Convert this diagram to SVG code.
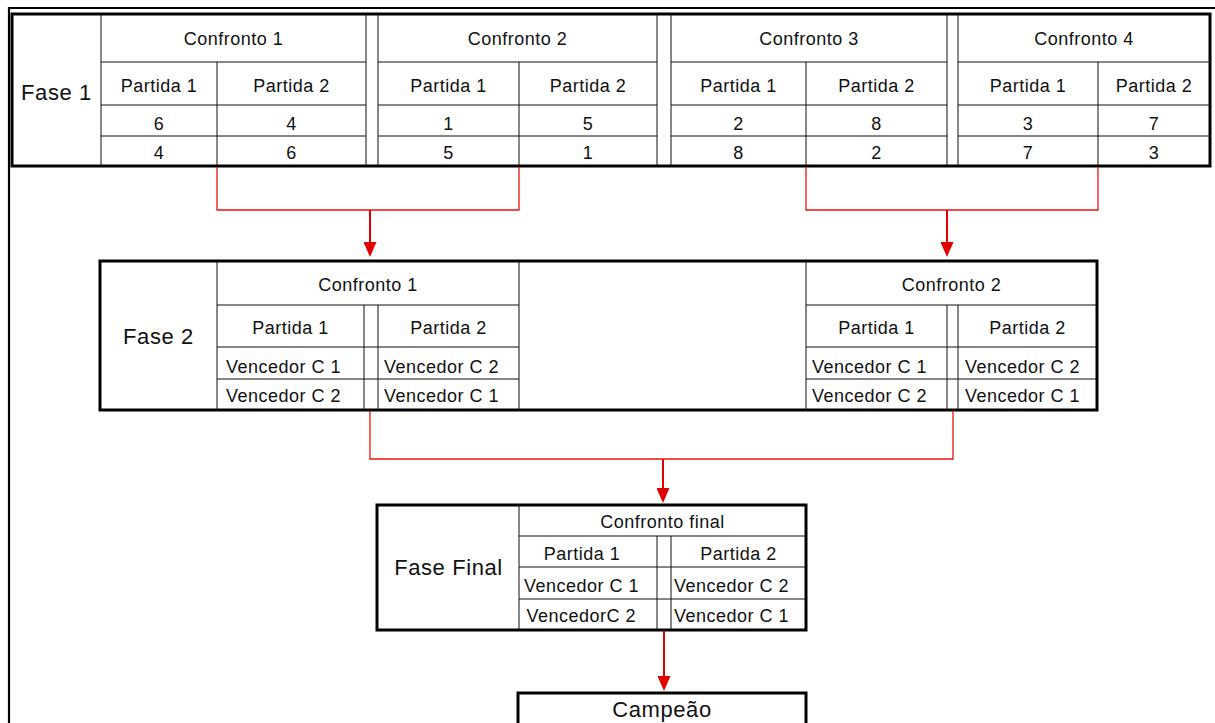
<svg xmlns="http://www.w3.org/2000/svg" width="1215" height="723" viewBox="0 0 1215 723">
  <style>
    .outer { fill: #fff; stroke: #000; stroke-width: 3; }
    .grid { fill: none; stroke: #111; stroke-width: 1; }
    .frame { fill: none; stroke: #000; stroke-width: 2.2; }
    .t { font-family: "Liberation Sans", Arial, sans-serif; font-size: 18px; letter-spacing: 0.5px; fill: #111; text-anchor: middle; }
    .s { text-anchor: start; }
    .big { font-family: "Liberation Sans", Arial, sans-serif; font-size: 22px; letter-spacing: 0.6px; fill: #111; text-anchor: middle; }
    .link { fill: none; stroke: #f01010; stroke-width: 1.3; }
    .stem { fill: none; stroke: #e00000; stroke-width: 2; marker-end: url(#arrow); }
  </style>
  <defs>
    <marker id="arrow" markerUnits="userSpaceOnUse" markerWidth="15" markerHeight="13" refX="1" refY="6.5" orient="auto">
      <path d="M0,0 L15,6.5 L0,13 Z" fill="#e00000"/>
    </marker>
  </defs>

  <rect width="1215" height="723" fill="#fff"/>

  <!-- page frame -->
  <path class="frame" d="M9,723 V8 H1215"/>

  <!-- Phase 1 -->
  <g id="fase1">
    <rect class="outer" x="12" y="14" width="1198" height="152"/>
    <path class="grid" d="M101,14 V166 M366,14 V166 M378,14 V166 M657,14 V166 M671,14 V166 M947,14 V166 M958,14 V166
      M217,62 V166 M519,62 V166 M806,62 V166 M1098,62 V166
      M101,62 H366 M101,105 H366 M101,136 H366
      M378,62 H657 M378,105 H657 M378,136 H657
      M671,62 H947 M671,105 H947 M671,136 H947
      M958,62 H1210 M958,105 H1210 M958,136 H1210"/>
    <text class="big" x="56.5" y="100">Fase 1</text>
    <text class="t" x="233.5" y="45">Confronto 1</text>
    <text class="t" x="517.5" y="45">Confronto 2</text>
    <text class="t" x="809" y="45">Confronto 3</text>
    <text class="t" x="1084" y="45">Confronto 4</text>
    <text class="t" x="159" y="92">Partida 1</text>
    <text class="t" x="291.5" y="92">Partida 2</text>
    <text class="t" x="448.5" y="92">Partida 1</text>
    <text class="t" x="588" y="92">Partida 2</text>
    <text class="t" x="738.5" y="92">Partida 1</text>
    <text class="t" x="876.5" y="92">Partida 2</text>
    <text class="t" x="1028" y="92">Partida 1</text>
    <text class="t" x="1154" y="92">Partida 2</text>
    <text class="t" x="159" y="130">6</text>
    <text class="t" x="291.5" y="130">4</text>
    <text class="t" x="448.5" y="130">1</text>
    <text class="t" x="588" y="130">5</text>
    <text class="t" x="738.5" y="130">2</text>
    <text class="t" x="876.5" y="130">8</text>
    <text class="t" x="1028" y="130">3</text>
    <text class="t" x="1154" y="130">7</text>
    <text class="t" x="159" y="159">4</text>
    <text class="t" x="291.5" y="159">6</text>
    <text class="t" x="448.5" y="159">5</text>
    <text class="t" x="588" y="159">1</text>
    <text class="t" x="738.5" y="159">8</text>
    <text class="t" x="876.5" y="159">2</text>
    <text class="t" x="1028" y="159">7</text>
    <text class="t" x="1154" y="159">3</text>
  </g>

  <!-- Phase 2 -->
  <g id="fase2">
    <rect class="outer" x="100" y="261" width="997" height="149"/>
    <path class="grid" d="M217,261 V410 M519,261 V410 M806,261 V410
      M364,305 V410 M378,305 V410 M947,305 V410 M958,305 V410
      M217,305 H519 M217,347 H519 M217,379 H519
      M806,305 H1097 M806,347 H1097 M806,379 H1097"/>
    <text class="big" x="158.5" y="344">Fase 2</text>
    <text class="t" x="368" y="291">Confronto 1</text>
    <text class="t" x="951.5" y="291">Confronto 2</text>
    <text class="t" x="290.5" y="334">Partida 1</text>
    <text class="t" x="448.5" y="334">Partida 2</text>
    <text class="t" x="876.5" y="334">Partida 1</text>
    <text class="t" x="1027.5" y="334">Partida 2</text>
    <text class="t s" x="226" y="372.5">Vencedor C 1</text>
    <text class="t s" x="384" y="372.5">Vencedor C 2</text>
    <text class="t s" x="226" y="401.5">Vencedor C 2</text>
    <text class="t s" x="384" y="401.5">Vencedor C 1</text>
    <text class="t s" x="812" y="372.5">Vencedor C 1</text>
    <text class="t s" x="965" y="372.5">Vencedor C 2</text>
    <text class="t s" x="812" y="401.5">Vencedor C 2</text>
    <text class="t s" x="965" y="401.5">Vencedor C 1</text>
  </g>

  <!-- Final phase -->
  <g id="fase-final">
    <rect class="outer" x="377" y="505" width="429" height="125"/>
    <path class="grid" d="M519,505 V630 M657,536 V630 M671,536 V630
      M519,536 H806 M519,567 H806 M519,599 H806"/>
    <text class="big" x="448.5" y="575">Fase Final</text>
    <text class="t" x="662.5" y="527.5">Confronto final</text>
    <text class="t" x="582" y="560">Partida 1</text>
    <text class="t" x="738.5" y="560">Partida 2</text>
    <text class="t s" x="524" y="592">Vencedor C 1</text>
    <text class="t s" x="674" y="592">Vencedor C 2</text>
    <text class="t s" x="526.5" y="621.5">VencedorC 2</text>
    <text class="t s" x="674" y="621.5">Vencedor C 1</text>
  </g>

  <!-- Champion -->
  <g id="campeao">
    <rect class="outer" x="518" y="693" width="288" height="50"/>
    <text class="big" x="662" y="716.5">Campeão</text>
  </g>

  <!-- connectors -->
  <g id="connectors">
    <path class="link" d="M217,167 V210 H519 V167"/>
    <path class="stem" d="M370,210 V243"/>
    <path class="link" d="M806,167 V210 H1098 V167"/>
    <path class="stem" d="M947,210 V243"/>
    <path class="link" d="M370,411 V459 H953 V411"/>
    <path class="stem" d="M663,459 V489"/>
    <path class="stem" d="M664,631 V677"/>
  </g>
</svg>
